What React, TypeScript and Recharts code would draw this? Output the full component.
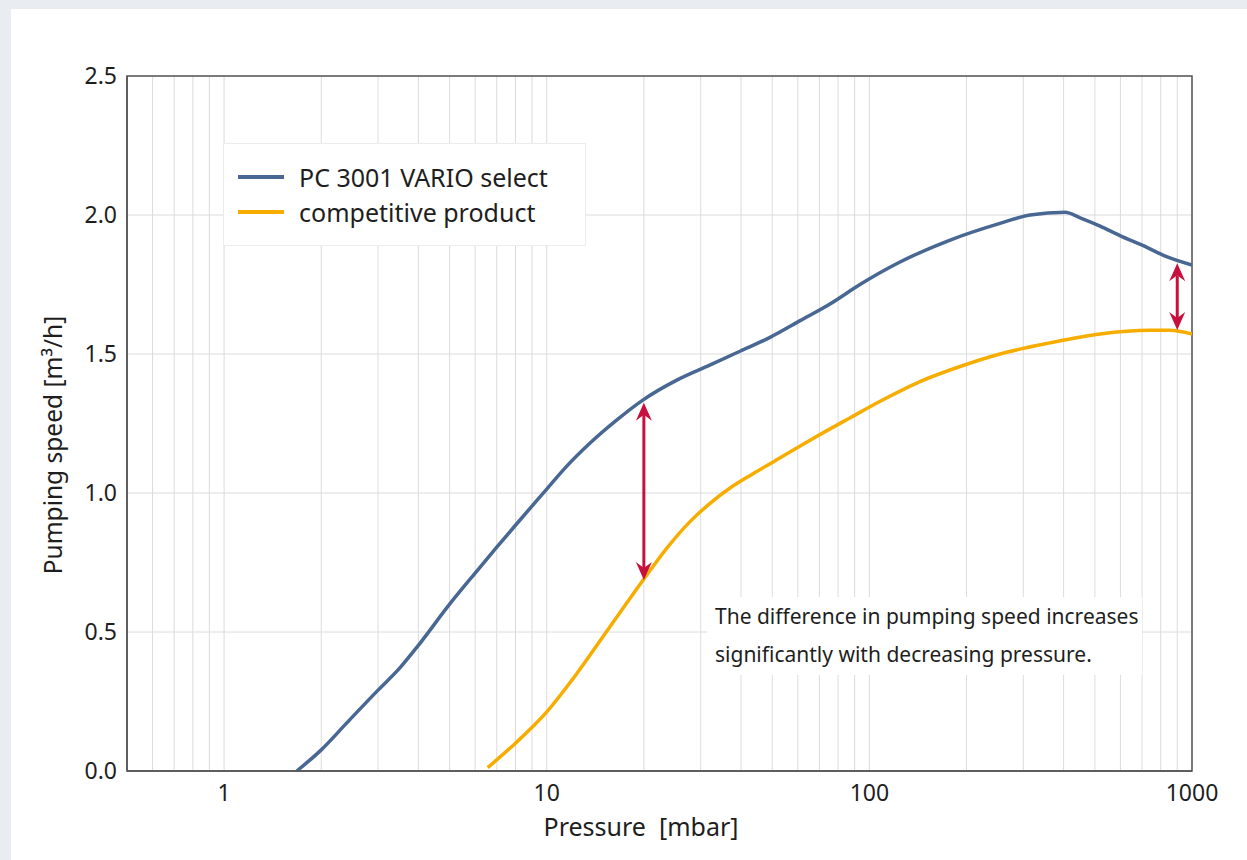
import { LineChart, Line, XAxis, YAxis, CartesianGrid, ReferenceLine, ReferenceArea } from 'recharts';

// PC 3001 VARIO select
const pcPressure = [1.68, 2, 2.4, 3, 3.5, 4, 5, 6, 7, 8, 9, 10, 11.5, 13.6, 16.5, 19.9, 25.3, 32, 39.7, 49.2, 61, 75.5, 93.5, 124, 178, 254, 315, 404, 450, 519, 600, 706, 834, 1000];
const pcSpeed = [0, 0.076, 0.173, 0.291, 0.37, 0.452, 0.6, 0.712, 0.805, 0.884, 0.953, 1.014, 1.095, 1.179, 1.263, 1.335, 1.406, 1.46, 1.51, 1.56, 1.62, 1.68, 1.75, 1.83, 1.91, 1.97, 2.0, 2.01, 1.99, 1.96, 1.925, 1.89, 1.85, 1.82];

// competitive product
const compPressure = [6.56, 8, 10, 12.4, 15.7, 19.9, 23.5, 27.8, 32, 37, 43, 50, 65.5, 87, 108, 143, 191, 254, 363, 519, 740, 852, 1000];
const compSpeed = [0.012, 0.1, 0.213, 0.351, 0.519, 0.687, 0.8, 0.897, 0.962, 1.018, 1.065, 1.11, 1.19, 1.27, 1.33, 1.4, 1.455, 1.5, 1.54, 1.572, 1.585, 1.585, 1.572];

const xTicks = [0.6, 0.7, 0.8, 0.9, 1, 2, 3, 4, 5, 6, 7, 8, 9, 10, 20, 30, 40, 50, 60, 70, 80, 90, 100, 200, 300, 400, 500, 600, 700, 800, 900, 1000];
const xLabels = [1, 10, 100, 1000];
const yTicks = [0, 0.5, 1, 1.5, 2, 2.5];

// difference arrows: [pressure, top speed, bottom speed]
const arrows = [
  [20, 1.325, 0.687],
  [900, 1.826, 1.586],
];

const pcData = pcPressure.map((p, i) => ({ p, s: pcSpeed[i] }));
const compData = compPressure.map((p, i) => ({ p, s: compSpeed[i] }));

const BLUE = '#486792';
const ORANGE = '#f7ad00';
const RED = '#c8103e';
const FONT = '"Noto Sans", sans-serif';

function Arrow(props: any) {
  const { x1, y1, y2 } = props;
  const top = Math.min(y1, y2);
  const bot = Math.max(y1, y2);
  return (
    <g>
      <line x1={x1} x2={x1} y1={top + 12} y2={bot - 12} stroke={RED} strokeWidth={3} />
      <path d={`M${x1},${top} L${x1 + 8},${top + 18} L${x1},${top + 12} L${x1 - 8},${top + 18} Z`} fill={RED} />
      <path d={`M${x1},${bot} L${x1 + 8},${bot - 18} L${x1},${bot - 12} L${x1 - 8},${bot - 18} Z`} fill={RED} />
    </g>
  );
}

export default function App() {
  return (
    <div style={{ position: 'fixed', left: 0, top: 0, width: 1247, height: 860, background: '#e9edf2', fontFamily: FONT, color: '#1e1e1e' }}>
      <div style={{ position: 'absolute', left: 11, top: 9, right: 0, bottom: 0, background: '#fff' }} />
      <div style={{ position: 'absolute', left: 0, top: 0 }}>
        <LineChart width={1247} height={860} margin={{ top: 76, right: 55, bottom: 39, left: 67 }}>
          <CartesianGrid stroke="#dcdcdc" strokeWidth={1} />
          <XAxis
            type="number"
            dataKey="p"
            scale="log"
            domain={[0.5, 1000]}
            ticks={xTicks}
            allowDataOverflow
            interval={0}
            height={50}
            tickLine={false}
            axisLine={{ stroke: '#555', strokeWidth: 1.5 }}
            tickMargin={8}
            tick={{ fill: '#1e1e1e', fontSize: 23, fontFamily: FONT }}
            tickFormatter={(v: number) => (xLabels.includes(v) ? String(v) : '')}
          />
          <YAxis
            type="number"
            domain={[0, 2.5]}
            ticks={yTicks}
            interval={0}
            width={60}
            tickLine={false}
            axisLine={{ stroke: '#555', strokeWidth: 1.5 }}
            tickMargin={4}
            tick={{ fill: '#1e1e1e', fontSize: 23, fontFamily: FONT }}
            tickFormatter={(v: number) => v.toFixed(1)}
          />
          <ReferenceArea x1={0.5} x2={1000} y1={0} y2={2.5} fill="none" stroke="#555" strokeWidth={1.5} ifOverflow="visible" />
          <Line data={pcData} dataKey="s" type="monotone" stroke={BLUE} strokeWidth={3.5} dot={false} isAnimationActive={false} />
          <Line data={compData} dataKey="s" type="monotone" stroke={ORANGE} strokeWidth={3.5} dot={false} isAnimationActive={false} />
          {arrows.map(([p, t, b], i) => (
            <ReferenceLine key={i} segment={[{ x: p, y: t }, { x: p, y: b }]} shape={Arrow} />
          ))}
        </LineChart>
      </div>

      {/* legend */}
      <div style={{ position: 'absolute', left: 223, top: 143, width: 363, height: 103, boxSizing: 'border-box', background: '#fff', border: '1px solid #ececec' }}>
        {[{ c: BLUE, t: 'PC 3001 VARIO select', y: 33 }, { c: ORANGE, t: 'competitive product', y: 68 }].map((it) => (
          <div key={it.t} style={{ position: 'absolute', left: 14, top: it.y - 16, height: 32, display: 'flex', alignItems: 'center' }}>
            <div style={{ width: 46, height: 3.5, background: it.c }} />
            <span style={{ marginLeft: 15, fontSize: 25, whiteSpace: 'nowrap' }}>{it.t}</span>
          </div>
        ))}
      </div>

      {/* annotation */}
      <div style={{ position: 'absolute', left: 707, top: 597, width: 435, height: 78, boxSizing: 'border-box', background: '#fff', padding: '0 0 0 8px', fontSize: 21, lineHeight: '38px', whiteSpace: 'nowrap' }}>
        The difference in pumping speed increases
        <br />
        significantly with decreasing pressure.
      </div>

      {/* axis titles */}
      <div style={{ position: 'absolute', left: 641, top: 826, transform: 'translate(-50%, -50%)', fontSize: 25, whiteSpace: 'pre' }}>
        {'Pressure  [mbar]'}
      </div>
      <div style={{ position: 'absolute', left: 52, top: 445, transform: 'translate(-50%, -50%) rotate(-90deg)', fontSize: 24.5, whiteSpace: 'nowrap' }}>
        Pumping speed [m³/h]
      </div>
    </div>
  );
}
